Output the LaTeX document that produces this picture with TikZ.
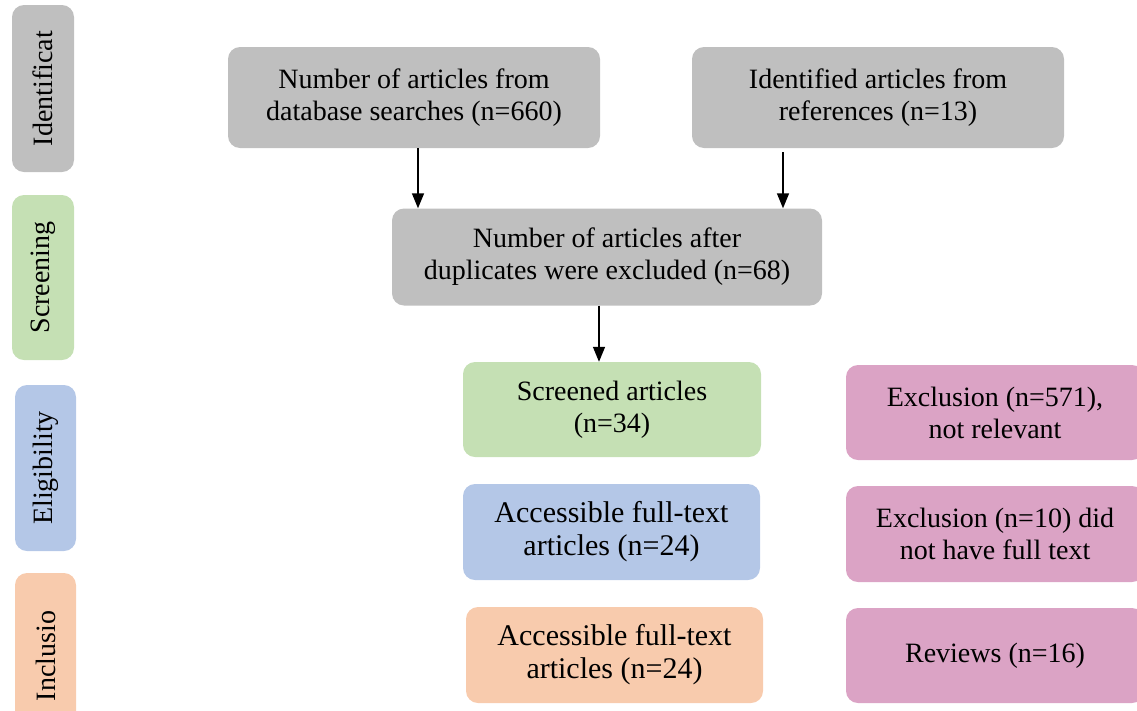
\documentclass[tikz,border=0pt]{standalone}
\usepackage{fontspec}
\setmainfont{Liberation Serif}
\usepackage{tikz}
\usetikzlibrary{arrows.meta}

\definecolor{grisCaja}{HTML}{BFBFBF}
\definecolor{verdeCaja}{HTML}{C5E0B4}
\definecolor{azulCaja}{HTML}{B4C7E7}
\definecolor{naranjaCaja}{HTML}{F8CBAD}
\definecolor{rosaCaja}{HTML}{DBA3C5}

\begin{document}
\begin{tikzpicture}[
    x=1pt, y=-1pt,
    % Cajas del diagrama de flujo
    caja/.style={rectangle, rounded corners=12pt, draw=none, align=center, inner sep=4pt, font=\fontsize{28}{32}\selectfont},
    cajaGrande/.style={caja, font=\fontsize{30}{33}\selectfont},
    fase/.style={caja, rotate=90, font=\fontsize{28}{32}\selectfont},
    flecha/.style={-{Triangle[length=15pt, width=12pt]}, line width=1.5pt, color=black}
]

    \useasboundingbox (0,0) rectangle (1137,710);
    \clip (0,0) rectangle (1137,710);

    % --- FASES (columna izquierda) ---
    \node[fase, fill=grisCaja,    minimum width=167pt, minimum height=62pt] (identificacion) at (43,88.5)   {Identificat};
    \node[fase, fill=verdeCaja,   minimum width=165pt, minimum height=62pt] (cribado)        at (43,277.5)  {Screening};
    \node[fase, fill=azulCaja,    minimum width=166pt, minimum height=61pt] (elegibilidad)   at (45.5,468)  {Eligibility};
    \node[fase, fill=naranjaCaja, minimum width=166pt, minimum height=61pt] (inclusion)      at (45.5,656)  {Inclusio};

    % --- CAJAS PRINCIPALES ---
    \node[caja, fill=grisCaja, minimum width=372pt, minimum height=101pt] (base)  at (414,97.5) {Number of articles from\\database searches (n=660)};
    \node[caja, fill=grisCaja, minimum width=372pt, minimum height=101pt] (refs)  at (878,97.5) {Identified articles from\\references (n=13)};
    \node[caja, fill=grisCaja, minimum width=430pt, minimum height=97pt]  (dupl)  at (607,257)  {Number of articles after\\duplicates were excluded (n=68)};

    \node[caja, fill=verdeCaja,         minimum width=298pt, minimum height=95pt] (cribados)   at (612,409.5) {Screened articles\\(n=34)};
    \node[cajaGrande, fill=azulCaja,    minimum width=297pt, minimum height=96pt] (accesibles) at (611.5,532) {Accessible full-text\\articles (n=24)};
    \node[cajaGrande, fill=naranjaCaja, minimum width=297pt, minimum height=96pt] (incluidos)  at (614.5,655) {Accessible full-text\\articles (n=24)};

    % --- EXCLUSIONES (columna derecha) ---
    \node[caja, fill=rosaCaja, minimum width=298pt, minimum height=95pt] (excl1)   at (995,412.5) {Exclusion (n=571),\\not relevant};
    \node[caja, fill=rosaCaja, minimum width=298pt, minimum height=96pt] (excl2)   at (995,534)   {Exclusion (n=10) did\\not have full text};
    \node[caja, fill=rosaCaja, minimum width=298pt, minimum height=95pt] (resenas) at (995,655.5) {Reviews (n=16)};

    % --- FLECHAS ---
    \draw[flecha] ([xshift=4pt]base.south) -- ([xshift=4pt]base.south |- dupl.north);
    \draw[flecha] ([xshift=-95pt, yshift=-4pt]refs.south) -- ([xshift=-95pt]refs.south |- dupl.north);
    \draw[flecha] ([xshift=-8pt]dupl.south) -- ([xshift=-8pt]dupl.south |- cribados.north);

\end{tikzpicture}
\end{document}
